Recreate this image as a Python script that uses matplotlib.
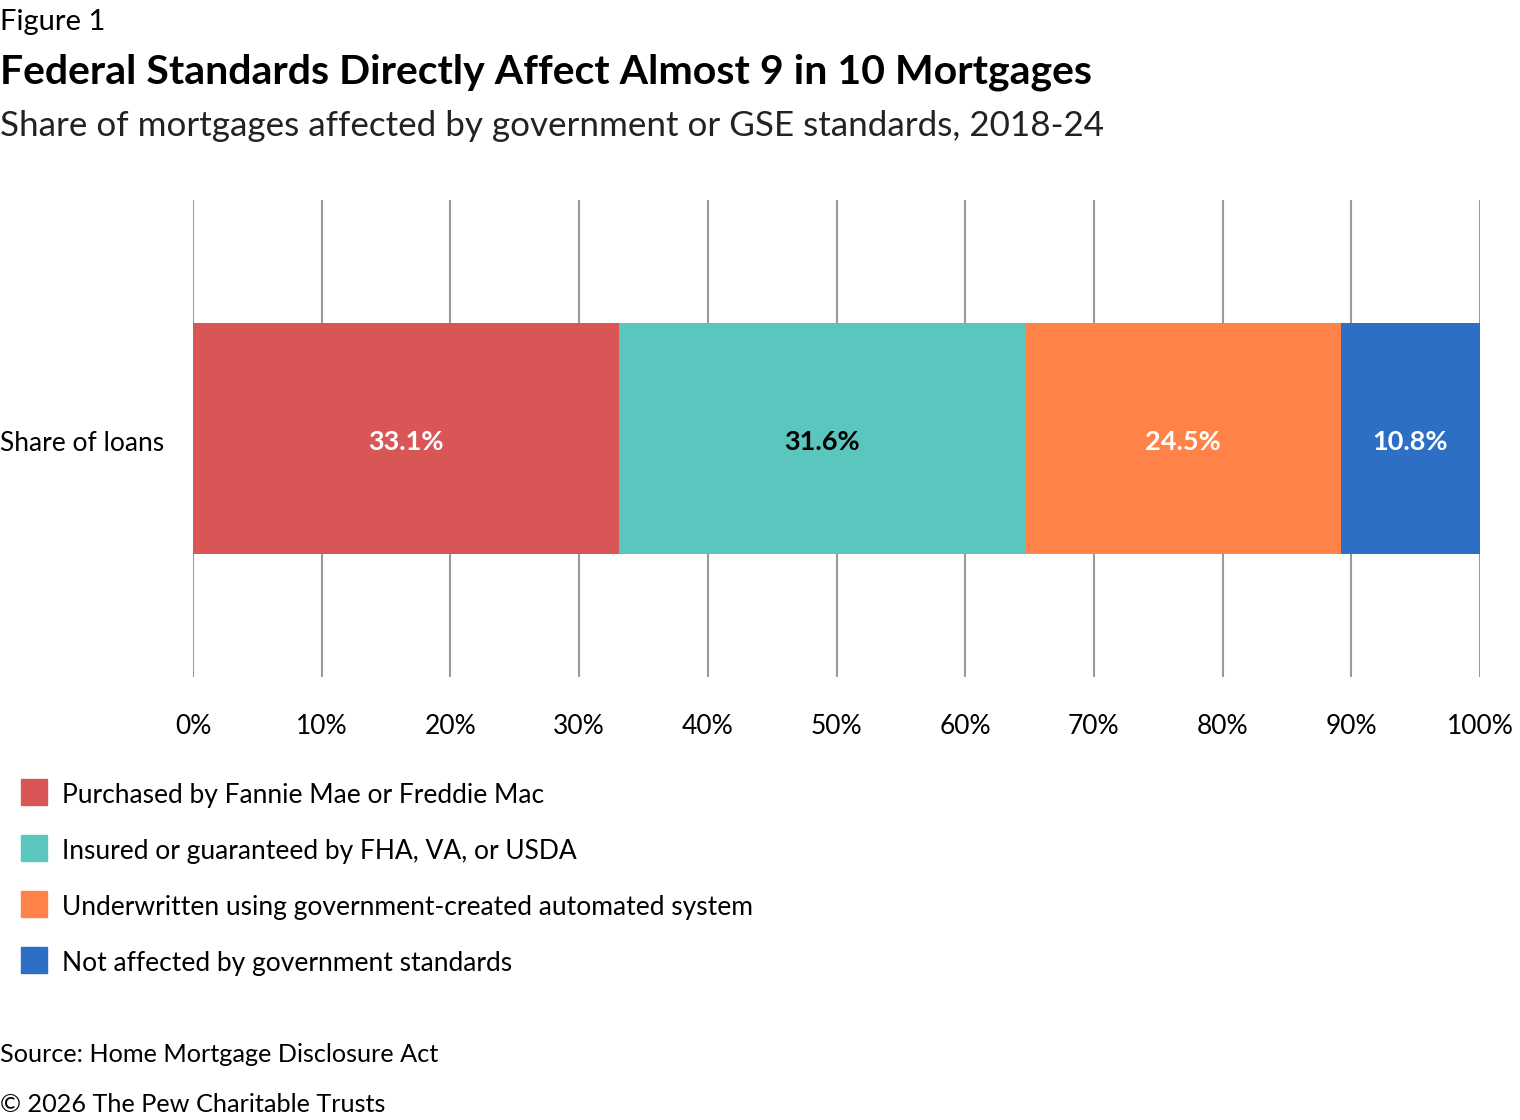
import matplotlib.pyplot as plt
from matplotlib.patches import Rectangle

plt.rcParams['font.family'] = ['Lato', 'DejaVu Sans']

categories = ['Purchased by Fannie Mae or Freddie Mac',
              'Insured or guaranteed by FHA, VA, or USDA',
              'Underwritten using government-created automated system',
              'Not affected by government standards']
shares = [33.1, 31.6, 24.5, 10.8]
value_labels = ['33.1%', '31.6%', '24.5%', '10.8%']
colors = ['#D85656', '#5BC6BE', '#FF8249', '#2C6FC4']
label_colors = ['white', 'black', 'white', 'white']
ticks = list(range(0, 101, 10))
tick_labels = [f'{t}%' for t in ticks]

W, H = 1520, 1120
fig = plt.figure(figsize=(W / 100, H / 100), dpi=100)

def fx(px):
    return px / W

def fy(py):
    return 1 - py / H

ax = fig.add_axes([fx(193), fy(677), fx(1480) - fx(193), fy(200) - fy(677)])

left = 0
for val, col, lab, lc in zip(shares, colors, value_labels, label_colors):
    ax.barh(0, val, left=left, height=0.97, color=col, zorder=2)
    ax.text(left + val / 2, -0.015, lab, ha='center', va='center', color=lc,
            fontsize=19.5, fontweight='bold', zorder=3)
    left += val

ax.set_xlim(0, 100)
ax.set_ylim(-1, 1)
ax.set_xticks(ticks)
ax.set_xticklabels(tick_labels, fontsize=19)
ax.set_yticks([])
ax.tick_params(axis='x', length=0, pad=27)
for s in ax.spines.values():
    s.set_visible(False)
ax.grid(axis='x', color='#9a9a9a', linewidth=1.5, zorder=0)
ax.set_axisbelow(True)

fig.text(0, fy(444), 'Share of loans', ha='left', va='center', fontsize=19)

fig.text(0, fy(22), 'Figure 1', ha='left', va='center', fontsize=21)
fig.text(0, fy(72), 'Federal Standards Directly Affect Almost 9 in 10 Mortgages',
         ha='left', va='center', fontsize=29.5, fontweight='bold')
fig.text(0, fy(126), 'Share of mortgages affected by government or GSE standards, 2018-24',
         ha='left', va='center', fontsize=25.2, color='#222222')

# legend
for i, (cat, col) in enumerate(zip(categories, colors)):
    yc = 792 + 56 * i
    fig.add_artist(Rectangle((fx(21), fy(yc + 13)), fx(26), fy(yc - 13) - fy(yc + 13),
                             transform=fig.transFigure, color=col))
    fig.text(fx(62), fy(yc + 3), cat, ha='left', va='center', fontsize=19)

fig.text(0, fy(1055), 'Source: Home Mortgage Disclosure Act', ha='left', va='center',
         fontsize=18.2)
fig.text(0, fy(1105), '\u00a9 2026 The Pew Charitable Trusts', ha='left', va='center',
         fontsize=18.2)

fig.savefig('out.png', dpi=100)
